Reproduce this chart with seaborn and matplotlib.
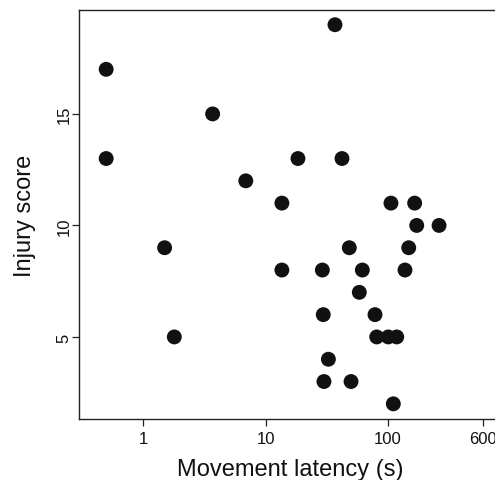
import matplotlib
matplotlib.use("Agg")
import matplotlib.pyplot as plt
import seaborn as sns
import pandas as pd
from matplotlib.ticker import FixedLocator, NullLocator, FixedFormatter

latency = [0.5, 0.5, 1.5, 1.8, 3.7, 6.9, 13.6, 13.6, 18.4, 36.9, 42.1, 48.3, 147.6,
           29.1, 61.7, 137.6, 58.3, 29.6, 78.3, 80.9, 100.5, 117.8, 32.6, 30.0, 49.9,
           110.5, 105.7, 165.0, 171.5, 261.0]
injury = [17, 13, 9, 5, 15, 12, 11, 8, 13, 19, 13, 9, 9,
          8, 8, 8, 7, 6, 6, 5, 5, 5, 4, 3, 3,
          2, 11, 11, 10, 10]
x_ticks = [1, 10, 100, 600]
x_tick_labels = ["1", "10", "100", "600"]
y_ticks = [5, 10, 15]
y_tick_labels = ["5", "10", "15"]

df = pd.DataFrame({"latency": latency, "injury": injury})

sns.set_style("white")
plt.rcParams["font.family"] = ["Liberation Sans", "DejaVu Sans"]

fig = plt.figure(figsize=(4.95, 4.81), dpi=100)
ax = fig.add_axes([79 / 495, 61 / 481, (502 - 79) / 495, 409 / 481])

sns.scatterplot(data=df, x="latency", y="injury", ax=ax, color="#111111",
                s=115, edgecolor="none", linewidth=0)

ax.set_xscale("log")
ax.set_xlim(0.30, 10 ** ((502 - 143) / 122.5))
ax.set_ylim(1.32, 19.66)

ax.xaxis.set_major_locator(FixedLocator(x_ticks))
ax.xaxis.set_major_formatter(FixedFormatter(x_tick_labels))
ax.xaxis.set_minor_locator(NullLocator())
ax.yaxis.set_major_locator(FixedLocator(y_ticks))
ax.yaxis.set_major_formatter(FixedFormatter(y_tick_labels))

ax.tick_params(axis="both", direction="out", length=5, width=0.9, color="#222222",
               labelsize=12, labelcolor="#111111", bottom=True, left=True)
ax.tick_params(axis="x", pad=4)
ax.tick_params(axis="y", pad=0.5)
for lab in ax.get_yticklabels():
    lab.set_rotation(90)
    lab.set_va("center")

for side in ["left", "bottom", "top", "right"]:
    ax.spines[side].set_visible(True)
    ax.spines[side].set_color("#222222")
    ax.spines[side].set_linewidth(1.0)

ax.set_xlabel("Movement latency (s)", fontsize=17, color="#111111", labelpad=8)
ax.set_ylabel("Injury score", fontsize=17, color="#111111", labelpad=15)

fig.savefig("out.png", dpi=100)
